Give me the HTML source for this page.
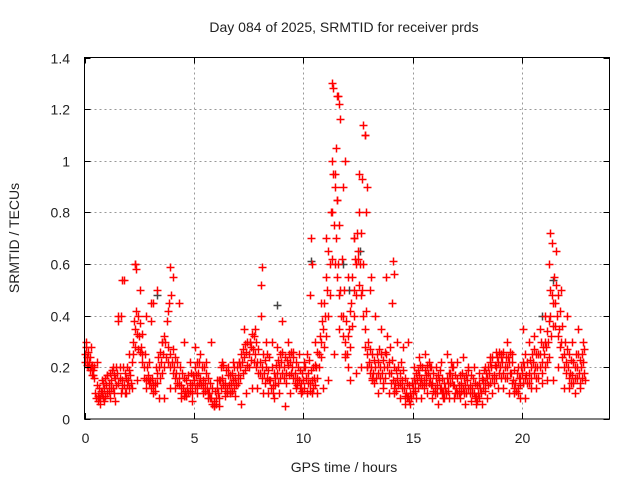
<!DOCTYPE html>
<html><head><meta charset="utf-8"><style>
body{margin:0;background:#fff}
svg{display:block;font-family:"Liberation Sans",sans-serif}
</style></head><body>
<svg id="chart" width="640" height="480">
<rect width="640" height="480" fill="#fff"/>
<text x="344" y="32" text-anchor="middle" font-size="14" fill="#222">Day 084 of 2025, SRMTID for receiver prds</text>
<g id="grid" shape-rendering="crispEdges"></g>
<g id="marks"></g>
<rect x="84.5" y="57.5" width="525" height="361.5" fill="none" stroke="#000"/>
<g id="ticks"></g>
<text x="344" y="472" text-anchor="middle" font-size="14" fill="#222">GPS time / hours</text>
<text transform="translate(19,238) rotate(-90)" text-anchor="middle" font-size="14" fill="#222">SRMTID / TECUs</text>
</svg>
<script>
const xTicks=[0,5,10,15,20];
const yTicks=[0,0.2,0.4,0.6,0.8,1,1.2,1.4];
const yTickLabels=["0","0.2","0.4","0.6","0.8","1","1.2","1.4"];
// mid values every 0.1 h starting at 0
const midVals=[0.25,0.24,0.22,0.2,0.19,0.1,0.09,0.08,0.1,0.12,0.13,0.14,0.15,0.12,0.16,0.18,0.2,0.15,0.13,0.16,
0.15,0.17,0.3,0.35,0.33,0.32,0.28,0.2,0.15,0.17,0.15,0.16,0.14,0.18,0.2,0.22,0.25,0.3,0.28,0.25,
0.22,0.2,0.18,0.16,0.13,0.12,0.11,0.12,0.14,0.13,0.15,0.17,0.18,0.16,0.15,0.14,0.12,0.1,0.08,0.07,
0.08,0.1,0.15,0.16,0.14,0.12,0.13,0.14,0.15,0.16,0.17,0.2,0.22,0.24,0.26,0.25,0.28,0.27,0.25,0.22,
0.22,0.2,0.18,0.2,0.19,0.15,0.13,0.16,0.18,0.2,0.22,0.2,0.18,0.21,0.22,0.2,0.18,0.16,0.15,0.14,
0.15,0.2,0.18,0.14,0.15,0.16,0.2,0.25,0.3,0.35,0.4,0.5,0.6,0.8,0.75,0.7,0.6,0.5,0.4,0.3,
0.25,0.35,0.45,0.5,0.6,0.65,0.6,0.5,0.35,0.25,0.22,0.2,0.18,0.2,0.22,0.2,0.18,0.2,0.25,0.22,
0.18,0.15,0.14,0.16,0.18,0.15,0.12,0.1,0.09,0.1,0.12,0.14,0.15,0.17,0.16,0.15,0.17,0.18,0.16,0.14,
0.12,0.13,0.15,0.12,0.1,0.12,0.14,0.18,0.16,0.13,0.12,0.13,0.14,0.12,0.13,0.15,0.13,0.12,0.1,0.09,
0.1,0.12,0.15,0.14,0.16,0.18,0.2,0.17,0.2,0.22,0.2,0.22,0.2,0.2,0.22,0.18,0.15,0.14,0.12,0.16,
0.18,0.2,0.17,0.18,0.2,0.22,0.2,0.2,0.25,0.22,0.25,0.28,0.3,0.4,0.45,0.45,0.4,0.35,0.3,0.25,
0.22,0.2,0.18,0.17,0.2,0.2,0.18,0.2,0.22];
// upper-band values every 0.1 h starting at 0.05
const upVals=[0.28,0.26,0.24,0.21,0.2,0.13,0.12,0.11,0.14,0.16,0.17,0.18,0.19,0.17,0.2,0.38,0.4,0.2,0.18,0.2,
0.19,0.22,0.38,0.42,0.4,0.37,0.33,0.25,0.2,0.22,0.38,0.45,0.2,0.24,0.26,0.3,0.32,0.38,0.45,0.48,
0.27,0.24,0.22,0.2,0.18,0.16,0.15,0.17,0.18,0.17,0.2,0.22,0.22,0.2,0.2,0.18,0.16,0.14,0.12,0.11,
0.12,0.15,0.2,0.21,0.19,0.17,0.17,0.18,0.2,0.2,0.22,0.25,0.27,0.29,0.3,0.3,0.33,0.32,0.3,0.27,
0.4,0.25,0.23,0.25,0.24,0.2,0.18,0.21,0.23,0.25,0.26,0.24,0.23,0.25,0.26,0.24,0.22,0.2,0.19,0.18,
0.2,0.25,0.23,0.19,0.2,0.21,0.26,0.32,0.38,0.45,0.55,0.65,0.8,0.95,0.9,0.85,0.75,0.62,0.5,0.38,
0.32,0.42,0.55,0.62,0.72,0.8,0.72,0.6,0.42,0.3,0.27,0.25,0.23,0.25,0.27,0.25,0.23,0.26,0.32,0.28,
0.23,0.2,0.19,0.2,0.22,0.19,0.16,0.14,0.13,0.14,0.16,0.18,0.19,0.21,0.2,0.19,0.21,0.22,0.2,0.18,
0.16,0.17,0.19,0.16,0.14,0.16,0.18,0.22,0.2,0.17,0.16,0.17,0.18,0.16,0.17,0.19,0.17,0.16,0.14,0.13,
0.14,0.16,0.19,0.18,0.2,0.22,0.24,0.21,0.24,0.26,0.24,0.26,0.24,0.24,0.26,0.22,0.19,0.18,0.16,0.2,
0.22,0.25,0.22,0.23,0.25,0.27,0.25,0.25,0.3,0.28,0.3,0.34,0.38,0.48,0.55,0.52,0.48,0.42,0.36,0.3,
0.27,0.25,0.23,0.22,0.25,0.25,0.23,0.25,0.27];
// lower-band values every 0.1 h starting at 0.03
const dnVals=[0.22,0.21,0.19,0.17,0.16,0.08,0.07,0.06,0.08,0.09,0.1,0.11,0.12,0.1,0.13,0.14,0.16,0.12,0.1,0.13,
0.12,0.14,0.25,0.28,0.27,0.26,0.22,0.16,0.12,0.14,0.12,0.13,0.11,0.14,0.16,0.18,0.2,0.24,0.22,0.2,
0.18,0.16,0.14,0.13,0.1,0.09,0.09,0.1,0.11,0.1,0.12,0.13,0.14,0.13,0.12,0.11,0.1,0.08,0.06,0.05,
0.06,0.08,0.12,0.13,0.11,0.1,0.1,0.11,0.12,0.13,0.14,0.16,0.18,0.19,0.21,0.2,0.23,0.22,0.2,0.18,
0.18,0.16,0.14,0.16,0.15,0.12,0.1,0.13,0.14,0.16,0.18,0.16,0.14,0.17,0.18,0.16,0.14,0.13,0.12,0.11,
0.12,0.16,0.14,0.11,0.12,0.13,0.16,0.2,0.24,0.28,0.32,0.4,0.48,0.62,0.6,0.55,0.48,0.4,0.32,0.24,
0.2,0.28,0.36,0.4,0.48,0.52,0.48,0.4,0.28,0.2,0.18,0.16,0.14,0.16,0.18,0.16,0.14,0.16,0.2,0.18,
0.14,0.12,0.11,0.13,0.14,0.12,0.09,0.08,0.07,0.08,0.1,0.11,0.12,0.14,0.13,0.12,0.14,0.14,0.13,0.11,
0.1,0.1,0.12,0.1,0.08,0.1,0.11,0.14,0.13,0.1,0.1,0.1,0.11,0.1,0.1,0.12,0.1,0.1,0.08,0.07,
0.08,0.1,0.12,0.11,0.13,0.14,0.16,0.14,0.16,0.18,0.16,0.18,0.16,0.16,0.18,0.14,0.12,0.11,0.1,0.13,
0.14,0.16,0.14,0.14,0.16,0.18,0.16,0.16,0.2,0.18,0.2,0.22,0.24,0.32,0.36,0.36,0.32,0.28,0.24,0.2,
0.18,0.16,0.14,0.14,0.16,0.16,0.14,0.16,0.18];
// upper and lower scatter every 0.25 h
const hiVals=[0.3,0.28,0.22,0.15,0.17,0.2,0.4,0.54,0.25,0.6,0.5,0.4,0.45,0.5,0.3,0.42,0.55,0.45,0.3,0.22,
0.28,0.25,0.22,0.3,0.15,0.22,0.2,0.22,0.22,0.35,0.3,0.35,0.52,0.3,0.3,0.28,0.38,0.3,0.26,0.25,
0.22,0.48,0.3,0.45,0.7,1.0,1.25,0.9,0.55,0.7,0.95,1.1,0.5,0.4,0.35,0.55,0.45,0.3,0.28,0.3,
0.2,0.24,0.25,0.2,0.2,0.22,0.25,0.2,0.22,0.24,0.2,0.2,0.18,0.2,0.24,0.26,0.25,0.3,0.25,0.2,
0.35,0.3,0.32,0.35,0.4,0.5,0.65,0.5,0.4,0.3,0.35,0.3];
const loVals=[0.2,0.17,0.08,0.07,0.08,0.07,0.1,0.1,0.12,0.15,0.25,0.15,0.1,0.08,0.08,0.12,0.12,0.08,0.09,0.07,
0.1,0.1,0.08,0.05,0.05,0.09,0.1,0.09,0.06,0.1,0.12,0.12,0.1,0.1,0.08,0.1,0.05,0.1,0.12,0.1,
0.1,0.1,0.1,0.12,0.15,0.25,0.35,0.25,0.15,0.18,0.2,0.2,0.15,0.1,0.12,0.1,0.1,0.08,0.06,0.06,
0.08,0.08,0.1,0.08,0.06,0.08,0.08,0.08,0.08,0.06,0.07,0.06,0.06,0.08,0.1,0.12,0.12,0.1,0.1,0.08,
0.08,0.12,0.12,0.14,0.15,0.15,0.2,0.12,0.12,0.1,0.12,0.15];
const spikeT=[11.3,11.35,11.6,11.65,11.7,12.75,12.8,11.5,11.9,12.7,12.9,11.45,11.55,12.85,10.35,21.3,21.35,21.25,8.1,3.9,2.3,2.35,1.7,14.1,14.15,10.4,13.1,12.5,12.3];
const spikeV=[1.3,1.28,1.25,1.22,1.16,1.14,1.1,1.05,1.0,0.93,0.9,0.95,0.85,0.8,0.7,0.72,0.68,0.6,0.59,0.59,0.6,0.58,0.54,0.61,0.56,0.6,0.55,0.62,0.7];
const grayT=[11.8,12.1,8.8,20.9,21.4,10.35,3.3,12.6];
const grayV=[0.6,0.5,0.44,0.4,0.54,0.61,0.48,0.65];

const X0=84.5,X1=609.5,Y0=419,Y1=57.5,XMAX=24,YMAX=1.4;
const xs=t=>X0+t/XMAX*(X1-X0);
const ys=v=>Y0-v/YMAX*(Y0-Y1);
const NS="http://www.w3.org/2000/svg";
const grid=document.getElementById('grid'),ticks=document.getElementById('ticks'),marks=document.getElementById('marks');
function mk(tag,attrs,parent){const e=document.createElementNS(NS,tag);for(const k in attrs)e.setAttribute(k,attrs[k]);parent.appendChild(e);return e;}
xTicks.forEach(t=>{
  const x=Math.round(xs(t))+0.5;
  if(t>0){const g=mk('line',{x1:x,x2:x,y1:Y1,y2:Y0,stroke:'#999','stroke-dasharray':'2,3'},grid);
  
  }
  const tk=mk('path',{d:`M${x},${Y0}v-6M${x},${Y1}v6`,stroke:'#000'},ticks);
  
  
  const lb=mk('text',{x:x,y:443,'text-anchor':'middle','font-size':14,fill:'#222'},ticks);
  lb.textContent=t;
  
  
});
yTicks.forEach((v,i)=>{
  const y=Math.round(ys(v))+0.5;
  if(v>0&&v<YMAX){const g=mk('line',{x1:X0,x2:X1,y1:y,y2:y,stroke:'#999','stroke-dasharray':'2,3'},grid);
  
  }
  const tk=mk('path',{d:`M${X0},${y}h6M${X1},${y}h-6`,stroke:'#000'},ticks);
  
  
  const lb=mk('text',{x:70,y:y+5,'text-anchor':'end','font-size':14,fill:'#222'},ticks);
  lb.textContent=yTickLabels[i];
  
  
});
function plus(t,v,color){
  const x=Math.round(xs(t))+0.5,y=Math.round(ys(v))+0.5;
  const p=mk('path',{d:`M${x-4},${y}h8M${x},${y-4}v8`,stroke:color,'stroke-width':1.5},marks);
  
  
}
grayT.forEach((t,i)=>plus(t,grayV[i],'#444'));
midVals.forEach((v,i)=>plus(i*0.1,v,'#f00'));
upVals.forEach((v,i)=>plus(i*0.1+0.05,v,'#f00'));
dnVals.forEach((v,i)=>plus(i*0.1+0.03,v,'#f00'));
hiVals.forEach((v,i)=>plus(i*0.25+0.05,v,'#f00'));
loVals.forEach((v,i)=>plus(i*0.25+0.15,v,'#f00'));
spikeT.forEach((t,i)=>plus(t,spikeV[i],'#f00'));
</script>
</body></html>
